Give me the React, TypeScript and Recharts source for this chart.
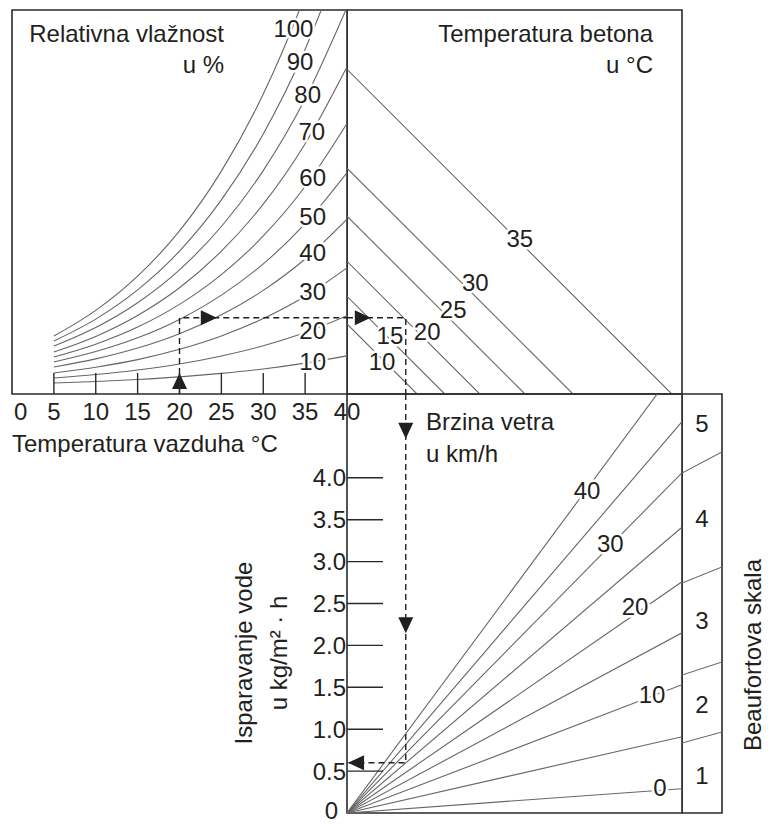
import React from 'react'
import { ComposedChart, Line, Scatter, XAxis, YAxis, ReferenceArea } from 'recharts'

const FONT = '"Liberation Sans", Arial, Helvetica, sans-serif'
const INK = '#231f20'
const FRAME = '#2a2a2a'
const CURVE = '#666666'

// --- top left: relative humidity curves (vapour pressure, hPa) vs air temperature
const airTicks = [0, 5, 10, 15, 20, 25, 30, 35, 40]
const airTemps = [5, 10, 15, 20, 25, 30, 35, 40]
const rh10 = [1.95, 2.21, 2.57, 3.03, 3.65, 4.44, 5.47, 6.76]
const rh20 = [2.83, 3.44, 4.25, 5.31, 6.73, 8.55, 10.89, 13.87]
const rh30 = [3.72, 4.75, 6.09, 7.92, 10.29, 13.35, 17.3, 22.33]
const rh40 = [4.78, 6.22, 8.13, 10.68, 14.02, 18.35, 23.91, 30.97]
const rh50 = [5.67, 7.51, 9.95, 13.21, 17.51, 23.04, 30.16, 39.21]
const rh60 = [6.55, 8.82, 11.85, 15.87, 21.14, 27.98, 36.74, 47.9]
const rh70 = [7.44, 10.2, 13.9, 18.81, 25.29, 33.61, 44.32, 57.96]
const rh80 = [8.5, 11.78, 16.17, 21.99, 29.66, 39.56, 52.27, 68.46]
const rh90 = [9.39, 13.26, 18.43, 25.31, 34.37, 46.04, 61.04, 80.04]
const rh100 = [10.27, 14.8, 20.86, 28.88, 39.47, 53.11, 70.66, 92.97]
const rhLevels = [10, 20, 30, 40, 50, 60, 70, 80, 90, 100]
const rhCurves = [rh10, rh20, rh30, rh40, rh50, rh60, rh70, rh80, rh90, rh100]
const rhLabelTemps = [35.9, 35.9, 35.9, 35.9, 35.9, 35.9, 35.8, 35.3, 34.4, 33.6]
const rhLabelPressures = [5.7, 11.3, 18.1, 25.0, 31.5, 38.4, 46.4, 53.1, 58.8, 64.8]

// --- top right: concrete temperature lines (saturation pressure at the surface)
const concreteTemps = [10, 15, 20, 25, 30, 35]
const concretePressures = [12.4, 17.3, 23.5, 31.5, 40.0, 57.5]
const concreteLabelGaps = [6.2, 7.6, 14.2, 18.8, 22.7, 30.6]
const concreteLabelPressures = [5.7, 10.4, 11.0, 14.9, 19.7, 27.6]

// --- bottom right: wind speed lines, evaporation at the right edge
const windSpeeds = [0, 5, 10, 15, 20, 25, 30, 35, 40]
const windEdgeRates = [0.29, 0.91, 1.53, 2.15, 2.76, 3.41, 4.06, 4.67, 5.4]
const windLabelSpeeds = [0, 10, 20, 30, 40]
const windLabelGaps = [55.4, 54.0, 51.0, 46.6, 42.5]
const windLabelRates = [0.3, 1.41, 2.46, 3.22, 3.85]
const rateTicks = [0, 0.5, 1.0, 1.5, 2.0, 2.5, 3.0, 3.5, 4.0]

// --- Beaufort strip
const beaufortGrades = [1, 2, 3, 4, 5]
const beaufortGradeRates = [0.45, 1.29, 2.3, 3.52, 4.65]
const beaufortBoundIn = [0.835, 1.647, 2.745, 4.057]
const beaufortBoundOut = [0.967, 1.802, 2.936, 4.308]

// --- worked example (dashed path)
const exampleAir = 20
const exampleVapour = 13.5
const exampleGap = 10.4
const exampleRate = 0.6

const GAP_MAX = 59.3
const VAP_MAX = 68
const RATE_MAX = 5
const STRIP_MAX = 66.2

const rhSeries = rhCurves.map((vals, i) => ({
  rh: rhLevels[i],
  points: vals.map((v, j) => ({ x: airTemps[j], y: v })),
}))
const rhLabels = rhLevels.map((rh, i) => ({ x: rhLabelTemps[i], y: rhLabelPressures[i], text: String(rh) }))
const concreteSeries = concreteTemps.map((t, i) => ({
  t,
  points: [
    { x: 0, y: concretePressures[i] },
    { x: concretePressures[i], y: 0 },
  ],
}))
const concreteLabels = concreteTemps.map((t, i) => ({ x: concreteLabelGaps[i], y: concreteLabelPressures[i], text: String(t) }))
const windSeries = windSpeeds.map((w, i) => ({
  w,
  points: [
    { x: 0, y: 0 },
    { x: GAP_MAX, y: windEdgeRates[i] },
  ],
}))
const windLabels = windLabelSpeeds.map((w, i) => ({ x: windLabelGaps[i], y: windLabelRates[i], text: String(w) }))
const beaufortSeries = beaufortBoundIn.map((v, i) => [
  { x: GAP_MAX, y: v },
  { x: STRIP_MAX, y: beaufortBoundOut[i] },
])
const beaufortLabels = beaufortGrades.map((g, i) => ({ x: (GAP_MAX + STRIP_MAX) / 2, y: beaufortGradeRates[i], text: String(g) }))

const pathA = [
  { x: exampleAir, y: 0 },
  { x: exampleAir, y: exampleVapour },
  { x: 40, y: exampleVapour },
]
const pathB = [
  { x: 0, y: exampleVapour },
  { x: exampleGap, y: exampleVapour },
  { x: exampleGap, y: 0 },
]
const pathC = [
  { x: exampleGap, y: RATE_MAX },
  { x: exampleGap, y: exampleRate },
  { x: 0, y: exampleRate },
]
const arrowsA = [
  { x: exampleAir, y: 2.3, dir: 'up' },
  { x: 23.5, y: exampleVapour, dir: 'right' },
]
const arrowsB = [{ x: 2.8, y: exampleVapour, dir: 'right' }]
const arrowsC = [
  { x: exampleGap, y: 4.56, dir: 'down' },
  { x: exampleGap, y: 2.24, dir: 'down' },
  { x: 1.6, y: exampleRate, dir: 'left' },
]

const textStyle = { fontFamily: FONT, fontSize: 24, fill: INK }

const labelShape = (p: any) => (
  <text
    x={p.cx}
    y={p.cy + 8.5}
    textAnchor="middle"
    {...textStyle}
    stroke="#fff"
    strokeWidth={5}
    strokeLinejoin="round"
    paintOrder="stroke"
  >
    {p.payload.text}
  </text>
)

const plainLabelShape = (p: any) => (
  <text x={p.cx} y={p.cy + 8.5} textAnchor="middle" {...textStyle}>
    {p.payload.text}
  </text>
)

const arrowShape = (p: any) => {
  const { cx, cy } = p
  const L = 8
  const W = 7.5
  let pts = ''
  switch (p.payload.dir) {
    case 'up':
      pts = `${cx},${cy - L} ${cx - W},${cy + L} ${cx + W},${cy + L}`
      break
    case 'down':
      pts = `${cx},${cy + L} ${cx - W},${cy - L} ${cx + W},${cy - L}`
      break
    case 'left':
      pts = `${cx - L},${cy} ${cx + L},${cy - W} ${cx + L},${cy + W}`
      break
    default:
      pts = `${cx + L},${cy} ${cx - L},${cy - W} ${cx - L},${cy + W}`
  }
  return <polygon points={pts} fill={INK} />
}

const renderAirTick = (props: any) => {
  const { x, y, payload } = props
  const v = payload.value
  const inner = v > 0 && v < 40
  return (
    <g>
      {inner && <line x1={x} y1={y} x2={x} y2={y - 21} stroke={FRAME} strokeWidth={1.4} />}
      <text x={v === 0 ? x + 2 : x} y={y + 26} textAnchor={v === 0 ? 'start' : 'middle'} {...textStyle}>
        {v}
      </text>
    </g>
  )
}

const renderRateTick = (props: any) => {
  const { x, y, payload } = props
  const v = payload.value
  return (
    <g>
      {v > 0 && <line x1={x} y1={y} x2={x + 36} y2={y} stroke={FRAME} strokeWidth={1.4} />}
      <text x={v === 0 ? x - 9 : x - 1} y={y + (v === 0 ? 6 : 8.5)} textAnchor="end" {...textStyle}>
        {v === 0 ? '0' : v.toFixed(1)}
      </text>
    </g>
  )
}

const dashed = { stroke: INK, strokeWidth: 1.4, strokeDasharray: '6 4', dot: false, isAnimationActive: false, type: 'linear' as const }

const App = () => {
  return (
    <div style={{ position: 'absolute', left: 0, top: 0, width: 771, height: 825, background: '#fff' }}>
      {/* relative humidity vs air temperature */}
      <div style={{ position: 'absolute', left: 0, top: 0 }}>
        <ComposedChart width={387} height={454} margin={{ top: 10, right: 40, bottom: 0, left: 12 }}>
          <XAxis
            type="number"
            dataKey="x"
            domain={[0, 40]}
            ticks={airTicks}
            interval={0}
            allowDataOverflow
            axisLine={false}
            tickLine={false}
            tickSize={0}
            tickMargin={0}
            height={60}
            tick={renderAirTick}
          />
          <YAxis type="number" dataKey="y" domain={[0, VAP_MAX]} allowDataOverflow hide />
          <ReferenceArea x1={0} x2={40} y1={0} y2={VAP_MAX} fill="none" stroke={FRAME} strokeWidth={1.6} />
          {rhSeries.map((s) => (
            <Line
              key={s.rh}
              data={s.points}
              dataKey="y"
              type="monotone"
              stroke={CURVE}
              strokeWidth={1.1}
              dot={false}
              isAnimationActive={false}
            />
          ))}
          <Scatter data={rhLabels} shape={labelShape} isAnimationActive={false} />
          <Line data={pathA} dataKey="y" {...dashed} />
          <Scatter data={arrowsA} shape={arrowShape} isAnimationActive={false} />
        </ComposedChart>
      </div>

      {/* concrete temperature */}
      <div style={{ position: 'absolute', left: 347, top: 0 }}>
        <ComposedChart width={345} height={404} margin={{ top: 10, right: 10, bottom: 10, left: 0 }}>
          <XAxis type="number" dataKey="x" domain={[0, GAP_MAX]} allowDataOverflow hide />
          <YAxis type="number" dataKey="y" domain={[0, VAP_MAX]} allowDataOverflow hide />
          <ReferenceArea x1={0} x2={GAP_MAX} y1={0} y2={VAP_MAX} fill="none" stroke={FRAME} strokeWidth={1.6} />
          {concreteSeries.map((s) => (
            <Line
              key={s.t}
              data={s.points}
              dataKey="y"
              type="linear"
              stroke={CURVE}
              strokeWidth={1.1}
              dot={false}
              isAnimationActive={false}
            />
          ))}
          <Scatter data={concreteLabels} shape={labelShape} isAnimationActive={false} />
          <Line data={pathB} dataKey="y" {...dashed} />
          <Scatter data={arrowsB} shape={arrowShape} isAnimationActive={false} />
        </ComposedChart>
      </div>

      {/* wind speed / evaporation */}
      <div style={{ position: 'absolute', left: 287, top: 384 }}>
        <ComposedChart width={405} height={439} margin={{ top: 10, right: 10, bottom: 10, left: 0 }}>
          <XAxis type="number" dataKey="x" domain={[0, GAP_MAX]} allowDataOverflow hide />
          <YAxis
            type="number"
            dataKey="y"
            domain={[0, RATE_MAX]}
            ticks={rateTicks}
            interval={0}
            allowDataOverflow
            axisLine={false}
            tickLine={false}
            tickSize={0}
            tickMargin={0}
            width={60}
            tick={renderRateTick}
          />
          <ReferenceArea x1={0} x2={GAP_MAX} y1={0} y2={RATE_MAX} fill="none" stroke={FRAME} strokeWidth={1.6} />
          {windSeries.map((s) => (
            <Line
              key={s.w}
              data={s.points}
              dataKey="y"
              type="linear"
              stroke={CURVE}
              strokeWidth={1.1}
              dot={false}
              isAnimationActive={false}
            />
          ))}
          <Scatter data={windLabels} shape={labelShape} isAnimationActive={false} />
          <Line data={pathC} dataKey="y" {...dashed} />
          <Scatter data={arrowsC} shape={arrowShape} isAnimationActive={false} />
        </ComposedChart>
      </div>

      {/* Beaufort strip */}
      <div style={{ position: 'absolute', left: 682, top: 384 }}>
        <ComposedChart width={50} height={439} margin={{ top: 10, right: 10, bottom: 10, left: 0 }}>
          <XAxis type="number" dataKey="x" domain={[GAP_MAX, STRIP_MAX]} allowDataOverflow hide />
          <YAxis type="number" dataKey="y" domain={[0, RATE_MAX]} allowDataOverflow hide />
          <ReferenceArea x1={GAP_MAX} x2={STRIP_MAX} y1={0} y2={RATE_MAX} fill="none" stroke={FRAME} strokeWidth={1.6} />
          {beaufortSeries.map((pts, i) => (
            <Line
              key={i}
              data={pts}
              dataKey="y"
              type="linear"
              stroke={CURVE}
              strokeWidth={1.1}
              dot={false}
              isAnimationActive={false}
            />
          ))}
          <Scatter data={beaufortLabels} shape={plainLabelShape} isAnimationActive={false} />
        </ComposedChart>
      </div>

      {/* titles */}
      <svg width={771} height={825} style={{ position: 'absolute', left: 0, top: 0, pointerEvents: 'none' }}>
        <g {...textStyle}>
          <text x={224} y={42} textAnchor="end">Relativna vlažnost</text>
          <text x={224} y={73} textAnchor="end">u %</text>
          <text x={653} y={42} textAnchor="end">Temperatura betona</text>
          <text x={653} y={73} textAnchor="end">u °C</text>
          <text x={12} y={452}>Temperatura vazduha °C</text>
          <text x={426} y={430}>Brzina vetra</text>
          <text x={426} y={462}>u km/h</text>
          <text x={243} y={653} textAnchor="middle" dominantBaseline="central" transform="rotate(-90 243 653)">
            Isparavanje vode
          </text>
          <text x={278} y={653} textAnchor="middle" dominantBaseline="central" transform="rotate(-90 278 653)">
            u kg/m² · h
          </text>
          <text x={752} y={655} textAnchor="middle" dominantBaseline="central" transform="rotate(-90 752 655)">
            Beaufortova skala
          </text>
        </g>
      </svg>
    </div>
  )
}

export default App
